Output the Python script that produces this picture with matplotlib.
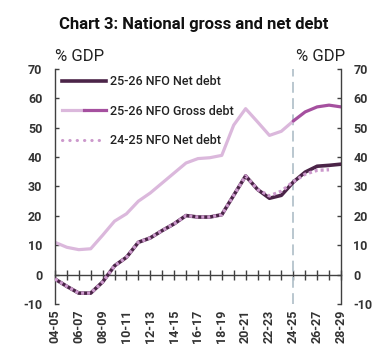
import matplotlib
matplotlib.use("Agg")
import matplotlib.pyplot as plt
from matplotlib.lines import Line2D
from matplotlib.legend_handler import HandlerTuple

plt.rcParams['font.family'] = ['Roboto', 'DejaVu Sans']
plt.rcParams['axes.unicode_minus'] = False

YEARS = ['04-05', '05-06', '06-07', '07-08', '08-09', '09-10', '10-11', '11-12',
         '12-13', '13-14', '14-15', '15-16', '16-17', '17-18', '18-19', '19-20',
         '20-21', '21-22', '22-23', '23-24', '24-25', '25-26', '26-27', '27-28',
         '28-29']

# 25-26 NFO gross debt: outturn to 24-25, forecast from 24-25
GROSS_HIST = [11.0, 9.3, 8.5, 8.8, 13.4, 18.2, 20.7, 25.0, 27.8, 31.2, 34.6,
              38.0, 39.5, 39.8, 40.6, 50.9, 56.5, 52.0, 47.4, 48.8, 52.3]
GROSS_FCST = [52.3, 55.4, 57.1, 57.7, 57.1]

# 25-26 NFO net debt
NET_2526 = [-1.5, -4.0, -6.3, -6.3, -2.5, 3.0, 5.9, 11.0, 12.5, 15.0, 17.3,
            20.1, 19.6, 19.6, 20.4, 27.0, 33.6, 29.0, 26.0, 27.0, 31.5, 34.9,
            36.9, 37.2, 37.6]

# 24-25 NFO net debt (ends 27-28)
NET_2425 = [-1.5, -4.0, -6.3, -6.3, -2.5, 3.0, 5.9, 11.0, 12.5, 15.0, 17.3,
            20.1, 19.6, 19.6, 20.4, 27.0, 33.6, 29.0, 26.8, 28.4, 31.6, 34.2,
            35.5, 35.7]

DARK = '#4b2448'
LIGHT = '#dbb8dc'
MID = '#a5509f'
DOT = '#cc99cc'

fig = plt.figure(figsize=(3.87, 3.55), dpi=100)
ax = fig.add_axes([0.142, 0.1437, 0.739, 0.6619])

x = list(range(len(YEARS)))
n_hist = len(GROSS_HIST)

ax.axvline(YEARS.index('24-25'), color='#b4c3cc', lw=1.3, dashes=(6, 3), zorder=1)

ax.plot(x[:n_hist], GROSS_HIST, color=LIGHT, lw=2.3, solid_capstyle='round', zorder=2)
ax.plot(x[n_hist - 1:], GROSS_FCST, color=MID, lw=2.3, solid_capstyle='round', zorder=2)
ax.plot(x, NET_2526, color=DARK, lw=2.6, solid_capstyle='round', zorder=3)
ax.plot(x[:len(NET_2425)], NET_2425, color=DOT, lw=2.4, linestyle=(0, (0.9, 0.9)),
        dash_capstyle='butt', zorder=4)

ax.set_xlim(0, len(YEARS) - 1)
ax.set_ylim(-10, 70)
ax.set_yticks(range(-10, 71, 10))

for s in ['top', 'bottom']:
    ax.spines[s].set_visible(False)
for s in ['left', 'right']:
    ax.spines[s].set_color('#404040')
    ax.spines[s].set_linewidth(1.0)

ax.tick_params(axis='y', direction='in', length=3, width=1, color='#404040',
               left=True, right=True, labelleft=True, labelright=True,
               labelsize=9, labelcolor='#333333', pad=9)
for lab in ax.get_yticklabels():
    lab.set_fontweight('bold')

ax.set_xticks(x[::2])
ax.set_xticklabels(YEARS[::2], rotation=90, fontsize=9, color='#333333',
                   fontweight='bold')
ax.tick_params(axis='x', length=0, pad=4)

# zero line with ticks for every year
zero = ax.secondary_xaxis(10 / 80)
zero.spines['bottom'].set_color('#404040')
zero.spines['bottom'].set_linewidth(1.0)
zero.set_xticks(x)
zero.tick_params(direction='inout', length=7, width=1, color='#404040', labelbottom=False)

ax.text(0, 1.02, '% GDP', transform=ax.transAxes, fontsize=12, color='#222222',
        ha='left', va='bottom')
ax.text(1.015, 1.02, '% GDP', transform=ax.transAxes, fontsize=12, color='#222222',
        ha='right', va='bottom')
fig.text(0.5, 0.93, 'Chart 3: National gross and net debt', ha='center', va='center',
         fontsize=12, fontweight='bold', color='#111111')

h_net = Line2D([], [], color=DARK, lw=2.6)
h_gross = (Line2D([], [], color=LIGHT, lw=2.3), Line2D([], [], color=MID, lw=2.3))
h_old = Line2D([], [], color=DOT, lw=2.2, linestyle=(0, (0.1, 2.3)), dash_capstyle='round')
leg = ax.legend([h_net, h_gross, h_old],
                ['25-26 NFO Net debt', '25-26 NFO Gross debt', '24-25 NFO Net debt'],
                handler_map={tuple: HandlerTuple(ndivide=2, pad=0)},
                loc='upper left', bbox_to_anchor=(-0.005, 1.01), borderaxespad=0.3,
                frameon=False, handlelength=3.5, handletextpad=0.35, labelspacing=1.3,
                prop={'size': 9, 'weight': 'medium'})
for t in leg.get_texts():
    t.set_color('#222222')

fig.savefig('out.png', dpi=100)
